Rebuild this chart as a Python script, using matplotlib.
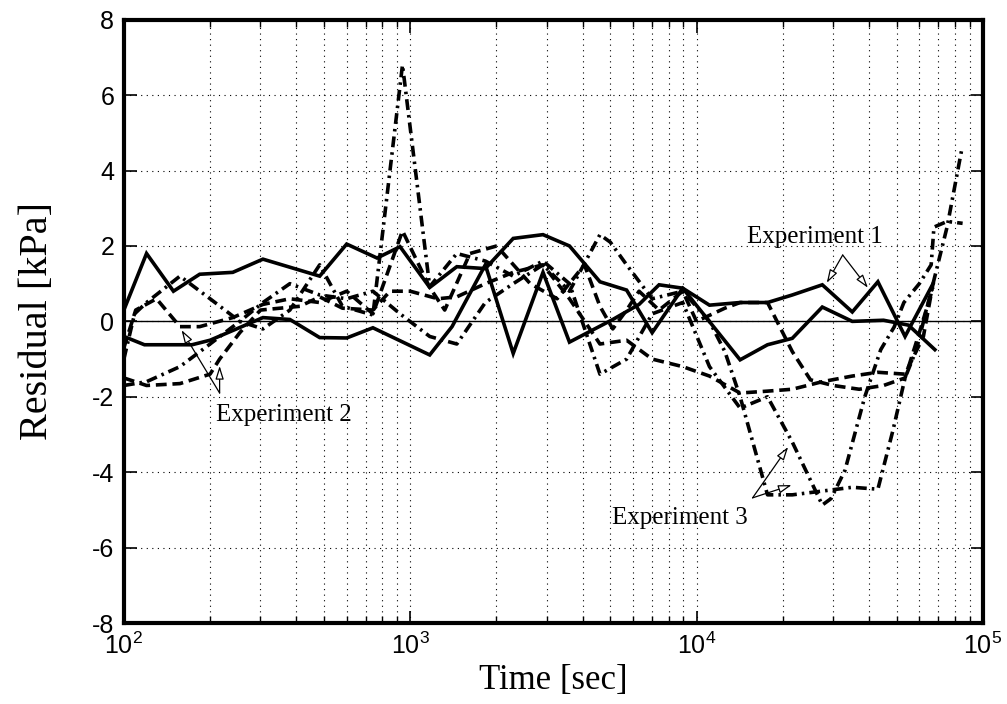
import numpy as np
import matplotlib
matplotlib.use("Agg")
import matplotlib.pyplot as plt
from matplotlib.ticker import LogLocator, NullFormatter

plt.rcParams["axes.unicode_minus"] = False
plt.rcParams["mathtext.fontset"] = "custom"
plt.rcParams["mathtext.rm"] = "Liberation Sans"

# ---------- data ----------
# Experiment 1 (solid)
t_s1 = [100, 120, 149, 184, 240, 306, 483, 600, 766, 922, 1170, 1455, 1830, 2290,
        2910, 3600, 4600, 5700, 7000, 8950, 11100, 14200, 17700, 21600, 27500,
        35000, 43000, 53500, 67000]
r_s1 = [0.3, 1.8, 0.8, 1.25, 1.3, 1.65, 1.2, 2.05, 1.68, 1.98, 0.9, 1.45, 1.4, 2.2,
        2.3, 2.0, 1.05, 0.83, -0.3, 0.88, 0.43, 0.5, 0.5, 0.7, 0.97,
        0.25, 1.05, -0.4, 1.0]

t_s2 = [100, 118, 173, 200, 306, 380, 483, 600, 741, 1170, 1400, 1830, 2290, 2910,
        3600, 5100, 6300, 7400, 8950, 14200, 17700, 21600, 27500, 35000, 45000,
        55000, 68000]
r_s2 = [-0.4, -0.62, -0.62, -0.5, 0.1, 0.05, -0.43, -0.44, -0.17, -0.89, -0.14, 1.5,
        -0.85, 1.3, -0.55, 0.05, 0.45, 0.97, 0.88, -1.02, -0.62, -0.45, 0.38, 0.0,
        0.03, -0.1, -0.75]

# Experiment 2 (dashed)
t_d1 = [100, 120, 157, 200, 216, 254, 300, 412, 483, 580, 741, 850, 1000, 1250,
        1455, 1830, 2290, 2910, 3600, 4600, 5700, 7000, 8950, 11100, 14200, 17700,
        21600, 27500, 35000, 43000, 53500, 62000, 67000]
r_d1 = [-1.5, -1.7, -1.65, -1.4, -1.0, -0.3, 0.3, 0.4, 0.65, 0.35, 0.3, 0.8, 0.8, 0.6,
        0.65, 1.0, 1.3, 1.5, 0.6, -0.6, -0.5, -1.0, -1.2, -1.45, -1.9, -1.85,
        -1.8, -1.6, -1.45, -1.35, -1.4, -0.4, 1.0]

t_d2 = [100, 110, 130, 157, 184, 240, 306, 380, 483, 600, 741, 940, 1170, 1320,
        1617, 2005, 2625, 3260, 4060, 4600, 5100, 5700, 6300, 7400, 8950, 10000,
        12560, 14200, 17700, 21600, 25000, 30000, 37000, 45000, 53500, 60000, 67000]
r_d2 = [-0.7, 0.3, 0.6, -0.14, -0.14, 0.1, 0.45, 0.6, 0.5, 0.8, 0.2, 2.4, 0.9, 0.3,
        1.8, 2.0, 1.0, 0.6, 1.5, 0.4, -0.2, 0.3, 0.8, 0.3, 0.8, 0.0,
        0.35, 0.5, 0.5, -0.8, -1.55, -1.7, -1.8, -1.7, -1.5, -0.3, 0.9]

# Experiment 3 (dash-dot)
t_c1 = [100, 109, 120, 157, 200, 254, 306, 380, 483, 580, 741, 940, 1170,
        1455, 1830, 2290, 2910, 3600, 4600, 5700, 7000, 8950, 11100, 14200, 17700,
        21600, 27500, 29500, 33000, 38700, 44000, 49000, 53000, 60000, 66000, 67500,
        75000, 85000]
r_c1 = [-1.0, 0.2, 0.5, 1.2, 0.6, 0.0, -0.2, 0.3, 1.5, 0.4, 0.17, 6.8, 0.92,
        1.8, 1.6, 1.2, 1.6, 1.0, -1.4, -1.0, 0.2, 0.5, -1.2, -2.3, -2.0,
        -3.2, -4.87, -4.7, -3.95, -2.0, -0.75, -0.15, 0.5, 1.0, 1.5, 2.5,
        2.65, 2.6]

t_c2 = [100, 120, 157, 200, 254, 306, 380, 483, 600, 741, 922, 1170, 1455, 1830,
        2290, 2910, 3600, 4600, 5000, 5700, 7000, 8950, 11100, 12560, 14200, 17700,
        21600, 27500, 35000, 43000, 48500, 53500, 58600, 67000, 75000, 84600]
r_c2 = [-1.7, -1.6, -1.2, -0.6, 0.0, 0.5, 1.0, 0.7, 0.6, 0.8, 0.2, -0.4, -0.6, 0.5,
        1.0, 1.5, 0.8, 2.3, 2.1, 1.5, 0.6, 0.8, 0.0, -0.8, -2.0, -4.6,
        -4.6, -4.5, -4.4, -4.45, -2.9, -1.5, -0.75, 1.0, 2.5, 4.6]

x_limits = (1e2, 1e5)
y_ticks = [-8, -6, -4, -2, 0, 2, 4, 6, 8]

# label text position, arrow apex, arrow tips (time, residual)
labels = ["Experiment 1", "Experiment 2", "Experiment 3"]
label_pos = [(15000, 2.25), (209, -2.48), (5065, -5.21)]
arrow_apex = [(32400, 1.76), (216, -1.9), (15700, -4.68)]
arrow_tips = [[(28500, 1.02), (39700, 0.89)],
              [(159, -0.23), (216, -1.18)],
              [(20900, -3.33), (21500, -4.34)]]

# ---------- plot ----------
fig = plt.figure(figsize=(10.07, 7.04), dpi=100)
ax = fig.add_axes([0.123, 0.115, 0.853, 0.857])

dashed = (0, (3.0, 1.6))
dashdot = (0, (3.0, 1.4, 0.7, 1.4))
lw = 2.6

ax.plot(t_s1, r_s1, color="black", lw=lw, ls="-", solid_joinstyle="miter")
ax.plot(t_s2, r_s2, color="black", lw=lw, ls="-", solid_joinstyle="miter")
ax.plot(t_d1, r_d1, color="black", lw=lw, ls=dashed)
ax.plot(t_d2, r_d2, color="black", lw=lw, ls=dashed)
ax.plot(t_c1, r_c1, color="black", lw=lw, ls=dashdot)
ax.plot(t_c2, r_c2, color="black", lw=lw, ls=dashdot)

ax.axhline(0, color="black", lw=1.0)

ax.set_xscale("log")
ax.set_xlim(*x_limits)
ax.set_ylim(-8, 8)
ax.set_yticks(y_ticks)
ax.xaxis.set_major_locator(LogLocator(base=10, numticks=10))
ax.xaxis.set_minor_locator(LogLocator(base=10, subs=np.arange(2, 10), numticks=20))
ax.xaxis.set_minor_formatter(NullFormatter())

ax.grid(True, which="major", ls=(0, (1, 4)), color="black", lw=0.8)
ax.grid(True, which="minor", axis="x", ls=(0, (1, 4)), color="black", lw=0.8)

for sp in ax.spines.values():
    sp.set_linewidth(3)
ax.tick_params(which="both", direction="in", top=True, right=True,
               labelsize=18, pad=7)
ax.tick_params(which="major", length=9, width=1.2)
ax.tick_params(which="minor", length=5, width=1.0)
for lab in ax.get_xticklabels() + ax.get_yticklabels():
    lab.set_fontfamily("Liberation Sans")

ax.set_xlabel("Time [sec]", fontsize=25, family="Liberation Serif", va="center")
ax.xaxis.set_label_coords(0.5, -0.096)
ax.set_ylabel("Residual [kPa]", fontsize=29, family="Liberation Serif", va="center")
ax.yaxis.set_label_coords(-0.1, 0.5)

for name, pos, apex, tips in zip(labels, label_pos, arrow_apex, arrow_tips):
    ax.text(pos[0], pos[1], name, fontsize=18, family="Liberation Serif",
            ha="left", va="center")
    for tip in tips:
        ax.annotate("", xy=tip, xytext=apex,
                    arrowprops=dict(arrowstyle="-|>,head_length=0.8,head_width=0.25",
                                    fc="white", ec="black", lw=0.9,
                                    shrinkA=0, shrinkB=0))

fig.savefig("out.png", dpi=100)
